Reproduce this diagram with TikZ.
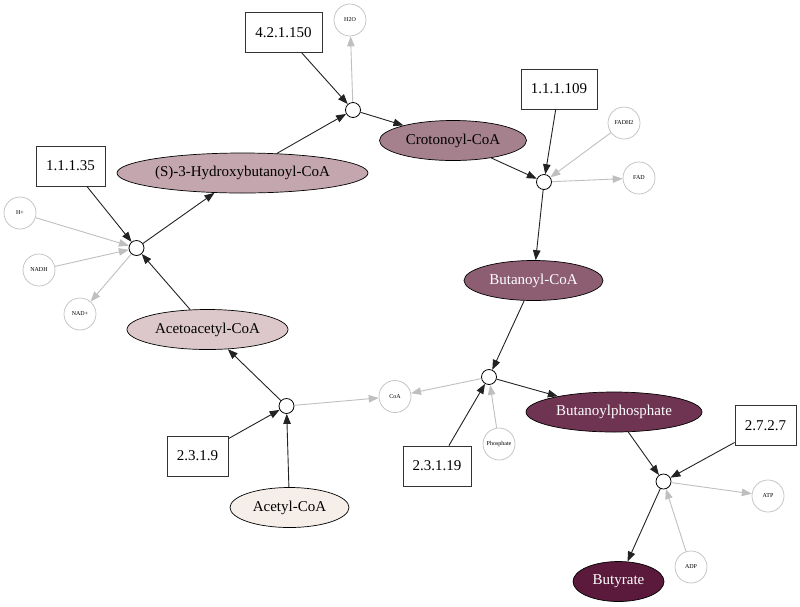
\documentclass[tikz,border=0pt]{standalone}
\usepackage{fontspec}
\setmainfont{Liberation Serif}
\usetikzlibrary{shapes.geometric,arrows.meta}
\definecolor{cS}{HTML}{C3A6AE}
\definecolor{cCr}{HTML}{A5808D}
\definecolor{cBu}{HTML}{8D5D72}
\definecolor{cAa}{HTML}{DCC8CA}
\definecolor{cAc}{HTML}{F6EEE9}
\definecolor{cBp}{HTML}{6F3452}
\definecolor{cBy}{HTML}{5B1A3C}
\definecolor{edgeblack}{HTML}{222222}
\definecolor{edgegray}{HTML}{BFBFBF}
\tikzset{
  metab/.style={ellipse, draw=black, line width=0.7pt, inner sep=0pt, minimum height=40pt, font=\fontsize{15}{17}\selectfont},
  enzyme/.style={rectangle, draw=black!80, line width=0.8pt, fill=white, minimum height=40pt, inner sep=0pt, font=\fontsize{15}{17}\selectfont},
  rxn/.style={circle, draw=black, line width=0.8pt, fill=white, minimum size=15pt, inner sep=0pt},
  cof/.style={circle, draw=edgegray, line width=0.7pt, fill=white, minimum size=32pt, inner sep=0pt, font=\fontsize{6}{7}\selectfont},
  main/.style={draw=edgeblack, line width=0.9pt, -{Triangle[length=10pt,width=7.5pt]}},
  side/.style={draw=edgegray, line width=0.9pt, -{Triangle[length=10pt,width=7.5pt]}},
}
\begin{document}
\begin{tikzpicture}[x=1pt,y=-1pt]
\useasboundingbox (0,0) rectangle (800,606);
% reaction nodes
\node[rxn] (r1) at (353,110) {};
\node[rxn] (r2) at (136.5,248) {};
\node[rxn] (r3) at (544,182) {};
\node[rxn] (r4) at (286.5,406) {};
\node[rxn] (r5) at (489,377) {};
\node[rxn] (r6) at (663.5,481.5) {};
% enzymes
\node[enzyme, minimum width=77pt] (e1) at (283.5,32.5) {4.2.1.150};
\node[enzyme, minimum width=69pt] (e2) at (70.5,166) {1.1.1.35};
\node[enzyme, minimum width=76pt] (e3) at (559,89) {1.1.1.109};
\node[enzyme, minimum width=61pt] (e4) at (197.5,456) {2.3.1.9};
\node[enzyme, minimum width=68pt] (e5) at (437,466) {2.3.1.19};
\node[enzyme, minimum width=61pt] (e6) at (765.5,425.5) {2.7.2.7};
% metabolites
\node[metab, fill=cS, minimum width=251pt] (s3h) at (242.5,173) {(S)-3-Hydroxybutanoyl-CoA};
\node[metab, fill=cCr, minimum width=147pt] (cro) at (453,140.5) {Crotonoyl-CoA};
\node[metab, fill=cBu, minimum width=139pt, text=white] (but) at (533.5,280.5) {Butanoyl-CoA};
\node[metab, fill=cAa, minimum width=161pt] (aca) at (207.5,329.5) {Acetoacetyl-CoA};
\node[metab, fill=cAc, minimum width=119pt] (ace) at (289.5,507.5) {Acetyl-CoA};
\node[metab, fill=cBp, minimum width=176pt, text=white] (bup) at (614,412) {Butanoylphosphate};
\node[metab, fill=cBy, minimum width=91pt, text=white] (byr) at (618.5,581.5) {Butyrate};
% cofactors
\node[cof] (h2o) at (350,20) {H2O};
\node[cof] (hp) at (20,213) {H+};
\node[cof] (nadh) at (39,270) {NADH};
\node[cof] (nadp) at (80,314) {NAD+};
\node[cof] (fadh) at (624,123) {FADH2};
\node[cof] (fad) at (639,178) {FAD};
\node[cof] (coa) at (395,396.5) {CoA};
\node[cof] (pho) at (499,444) {Phosphate};
\node[cof] (atp) at (768,496) {ATP};
\node[cof] (adp) at (691,567) {ADP};
% edges: reaction 1
\draw[main] (e1) -- (r1);
\draw[main] (s3h) -- (r1);
\draw[side] (r1) -- (h2o);
\draw[main] (r1) -- (cro);
% reaction 2
\draw[main] (e2) -- (r2);
\draw[side] (hp) -- (r2);
\draw[side] (nadh) -- (r2);
\draw[side] (r2) -- (nadp);
\draw[main] (aca) -- (r2);
\draw[main] (r2) -- (s3h);
% reaction 3
\draw[main] (cro) -- (r3);
\draw[main] (e3) -- (r3);
\draw[side] (fadh) -- (r3);
\draw[side] (r3) -- (fad);
\draw[main] (r3) -- (but);
% reaction 4
\draw[main] (ace) -- (r4);
\draw[main] (e4) -- (r4);
\draw[main] (r4) -- (aca);
\draw[side] (r4) -- (coa);
% reaction 5
\draw[main] (but) -- (r5);
\draw[main] (e5) -- (r5);
\draw[side] (pho) -- (r5);
\draw[side] (r5) -- (coa);
\draw[main] (r5) -- (bup);
% reaction 6
\draw[main] (bup) -- (r6);
\draw[main] (e6) -- (r6);
\draw[side] (adp) -- (r6);
\draw[side] (r6) -- (atp);
\draw[main] (r6) -- (byr);
\end{tikzpicture}
\end{document}
